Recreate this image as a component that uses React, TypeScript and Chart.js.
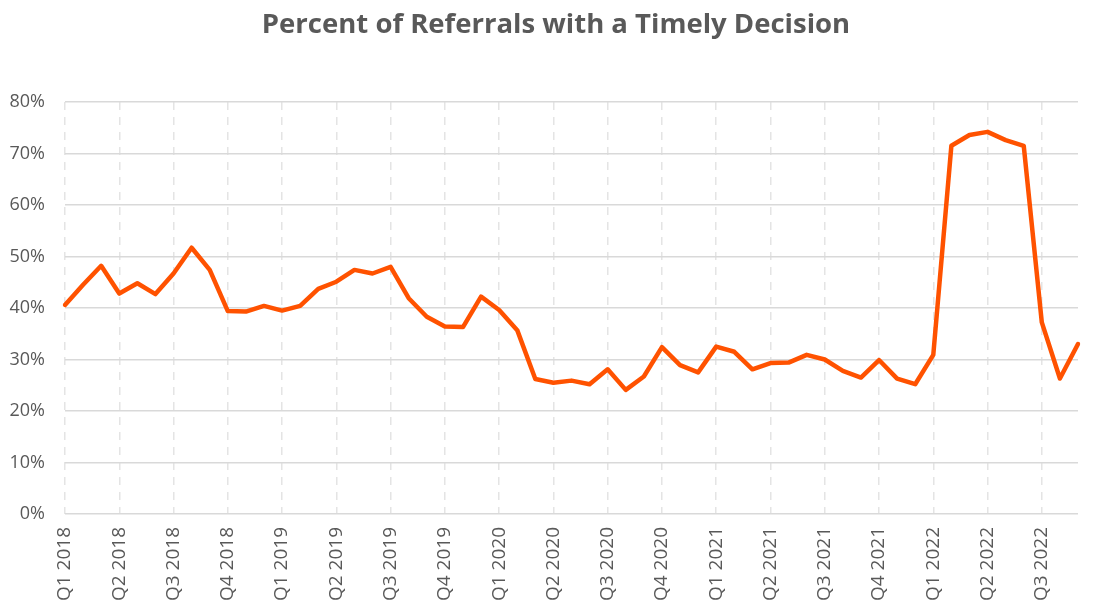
import React, { useEffect, useRef } from "react";
import { Chart, registerables } from "chart.js";

Chart.register(...registerables);

const TITLE = "Percent of Referrals with a Timely Decision";

// Monthly periods, Jan 2018 .. Sep 2022
const months: string[] = [
  "2018-01", "2018-02", "2018-03", "2018-04", "2018-05", "2018-06",
  "2018-07", "2018-08", "2018-09", "2018-10", "2018-11", "2018-12",
  "2019-01", "2019-02", "2019-03", "2019-04", "2019-05", "2019-06",
  "2019-07", "2019-08", "2019-09", "2019-10", "2019-11", "2019-12",
  "2020-01", "2020-02", "2020-03", "2020-04", "2020-05", "2020-06",
  "2020-07", "2020-08", "2020-09", "2020-10", "2020-11", "2020-12",
  "2021-01", "2021-02", "2021-03", "2021-04", "2021-05", "2021-06",
  "2021-07", "2021-08", "2021-09", "2021-10", "2021-11", "2021-12",
  "2022-01", "2022-02", "2022-03", "2022-04", "2022-05", "2022-06",
  "2022-07", "2022-08", "2022-09",
];

// Tick labels shown at each quarter start
const quarterLabels: string[] = [
  "Q1 2018", "Q2 2018", "Q3 2018", "Q4 2018",
  "Q1 2019", "Q2 2019", "Q3 2019", "Q4 2019",
  "Q1 2020", "Q2 2020", "Q3 2020", "Q4 2020",
  "Q1 2021", "Q2 2021", "Q3 2021", "Q4 2021",
  "Q1 2022", "Q2 2022", "Q3 2022",
];

// Percent of referrals with a timely decision (%)
const timelyPct: number[] = [
  40.6, 44.5, 48.2, 42.8, 44.8, 42.7, 46.7, 51.7, 47.4, 39.4, 39.3, 40.4,
  39.5, 40.4, 43.7, 45.1, 47.4, 46.7, 48.0, 41.9, 38.3, 36.4, 36.3, 42.2,
  39.6, 35.7, 26.2, 25.5, 25.9, 25.2, 28.1, 24.1, 26.7, 32.4, 28.9, 27.5,
  32.5, 31.5, 28.1, 29.3, 29.4, 30.9, 30.0, 27.8, 26.5, 29.9, 26.3, 25.2,
  30.9, 71.5, 73.6, 74.2, 72.6, 71.5, 37.2, 26.3, 33.0,
];

const yTicks: number[] = [0, 10, 20, 30, 40, 50, 60, 70, 80];

const TEXT_COLOR = "#595959";

// Title drawn as canvas text, centred where the reference centres it
const titlePlugin = {
  id: "offsetTitle",
  afterDraw(chart: any) {
    const ctx = chart.ctx;
    ctx.save();
    ctx.font = 'bold 27.5px "Open Sans"';
    ctx.fillStyle = TEXT_COLOR;
    ctx.textAlign = "center";
    ctx.textBaseline = "alphabetic";
    ctx.fillText(TITLE, 556, 33);
    ctx.restore();
  },
};

export default function App() {
  const ref = useRef<HTMLCanvasElement | null>(null);

  useEffect(() => {
    if (!ref.current) return;
    const chart = new Chart(ref.current, {
      type: "line",
      data: {
        labels: months,
        datasets: [
          {
            data: timelyPct,
            borderColor: "#FF5200",
            borderWidth: 4.5,
            pointRadius: 0,
            tension: 0,
            fill: false,
            borderJoinStyle: "round",
            borderCapStyle: "round",
          },
        ],
      },
      plugins: [titlePlugin],
      options: {
        animation: false,
        responsive: false,
        devicePixelRatio: 1,
        layout: { padding: { left: 0, right: 16, top: 102, bottom: 0 } },
        plugins: {
          legend: { display: false },
          tooltip: { enabled: false },
          title: { display: false },
        },
        scales: {
          x: {
            type: "category",
            offset: false,
            afterFit: (scale: any) => {
              scale.height = 89;
              scale.paddingLeft = 0;
              scale.paddingRight = 0;
            },
            grid: {
              drawTicks: false,
              lineWidth: 1.5,
              color: (ctx: any) =>
                ctx.index % 3 === 0 ? "#e4e4e4" : "rgba(0,0,0,0)",
            },
            border: { display: false, dash: [8, 7] },
            ticks: {
              autoSkip: false,
              maxRotation: 90,
              minRotation: 90,
              padding: 13,
              color: TEXT_COLOR,
              font: { family: "Open Sans", size: 19 },
              callback: (_v: any, i: number) =>
                i % 3 === 0 ? quarterLabels[i / 3] : "",
            },
          },
          y: {
            min: 0,
            max: 80,
            afterFit: (scale: any) => {
              scale.width = 65;
              scale.paddingTop = 0;
              scale.paddingBottom = 0;
            },
            afterBuildTicks: (scale: any) => {
              scale.ticks = yTicks.map((v) => ({ value: v }));
            },
            grid: { drawTicks: false, color: "#d9d9d9", lineWidth: 1.5 },
            border: { display: false },
            ticks: {
              padding: 20,
              color: TEXT_COLOR,
              font: { family: "Open Sans", size: 18 },
              callback: (v: any) => `${v}%`,
            },
          },
        },
      },
    } as any);
    return () => chart.destroy();
  }, []);

  return (
    <div
      style={{
        position: "fixed",
        left: 0,
        top: 0,
        width: 1094,
        height: 603,
        overflow: "hidden",
        background: "#fff",
      }}
    >
      <canvas
        ref={ref}
        width={1094}
        height={603}
        style={{ width: 1094, height: 603, display: "block" }}
      />
    </div>
  );
}
